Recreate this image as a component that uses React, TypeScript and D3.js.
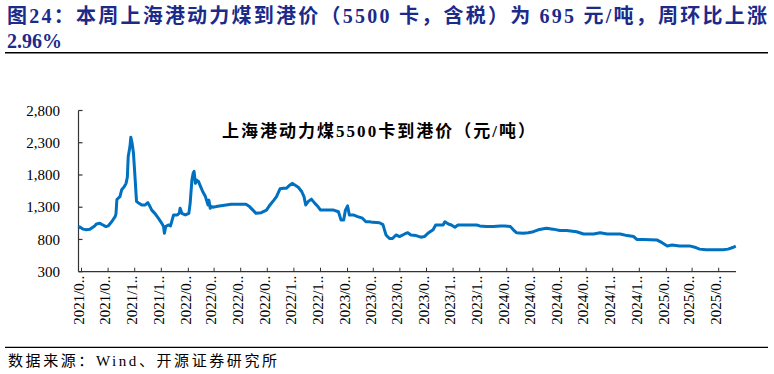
import * as d3 from "d3";

const WIDTH = 774;
const HEIGHT = 374;

const TITLE_LINE1 = "图24：本周上海港动力煤到港价（5500 卡，含税）为 695 元/吨，周环比上涨";
const TITLE_LINE2 = "2.96%";
const CHART_TITLE = "上海港动力煤5500卡到港价（元/吨）";
const SOURCE = "数据来源：Wind、开源证券研究所";

// weekly-ish readings of the series
const dates = [
  "2021-06-01", "2021-06-04", "2021-06-12", "2021-06-19", "2021-06-27", "2021-07-08", "2021-07-12", "2021-07-20",
  "2021-07-27", "2021-08-03", "2021-08-08", "2021-08-16", "2021-08-24", "2021-08-26", "2021-08-28", "2021-09-04",
  "2021-09-08", "2021-09-14", "2021-09-18", "2021-09-21", "2021-09-23", "2021-09-27", "2021-09-29", "2021-10-02",
  "2021-10-05", "2021-10-09", "2021-10-12", "2021-10-16", "2021-10-24", "2021-11-01", "2021-11-07", "2021-11-12",
  "2021-11-16", "2021-11-23", "2021-12-01", "2021-12-09", "2021-12-13", "2021-12-15", "2021-12-18", "2021-12-24",
  "2021-12-29", "2022-01-05", "2022-01-13", "2022-01-18", "2022-01-20", "2022-01-24", "2022-02-01", "2022-02-09",
  "2022-02-12", "2022-02-16", "2022-02-19", "2022-02-21", "2022-02-24", "2022-02-27", "2022-03-03", "2022-03-08",
  "2022-03-13", "2022-03-19", "2022-03-25", "2022-03-27", "2022-03-30", "2022-04-02", "2022-04-05", "2022-04-13",
  "2022-04-20", "2022-05-17", "2022-06-20", "2022-06-28", "2022-07-06", "2022-07-13", "2022-07-25", "2022-08-06",
  "2022-08-14", "2022-08-23", "2022-08-29", "2022-09-06", "2022-09-14", "2022-09-21", "2022-09-29", "2022-10-04",
  "2022-10-10", "2022-10-18", "2022-10-26", "2022-10-31", "2022-11-04", "2022-11-10", "2022-11-17", "2022-11-25",
  "2022-12-02", "2022-12-08", "2022-12-18", "2023-01-07", "2023-01-18", "2023-01-24", "2023-01-30", "2023-02-03",
  "2023-02-08", "2023-02-12", "2023-02-21", "2023-03-03", "2023-03-14", "2023-03-22", "2023-03-30", "2023-04-07",
  "2023-04-22", "2023-04-30", "2023-05-07", "2023-05-15", "2023-05-22", "2023-05-30", "2023-06-07", "2023-06-19",
  "2023-06-26", "2023-07-03", "2023-07-15", "2023-07-26", "2023-08-03", "2023-08-11", "2023-08-23", "2023-08-29",
  "2023-09-07", "2023-09-15", "2023-09-19", "2023-09-27", "2023-10-04", "2023-10-12", "2023-10-19", "2023-11-15",
  "2023-12-01", "2023-12-08", "2023-12-23", "2024-01-08", "2024-01-24", "2024-02-04", "2024-02-16", "2024-02-23",
  "2024-03-01", "2024-03-16", "2024-03-28", "2024-04-09", "2024-04-20", "2024-05-09", "2024-05-24", "2024-06-09",
  "2024-06-24", "2024-07-17", "2024-08-02", "2024-08-25", "2024-09-09", "2024-09-25", "2024-10-25", "2024-11-10",
  "2024-11-25", "2024-12-02", "2024-12-17", "2025-01-18", "2025-01-29", "2025-02-10", "2025-02-21", "2025-03-10",
  "2025-04-02", "2025-04-14", "2025-04-25", "2025-05-10", "2025-06-18", "2025-06-29", "2025-07-10", "2025-07-17",
];

const prices = [
  975, 995, 960, 950, 957, 1010, 1040, 1050,
  1025, 1000, 1010, 1075, 1155, 1200, 1420, 1465,
  1570, 1620, 1670, 1765, 2085, 2240, 2385, 2290,
  2140, 1720, 1390, 1370, 1335, 1335, 1370, 1310,
  1255, 1205, 1130, 1050, 1000, 895, 1000, 1025,
  1010, 1180, 1180, 1205, 1285, 1205, 1180, 1205,
  1360, 1720, 1830, 1855, 1670, 1720, 1700, 1620,
  1540, 1465, 1335, 1410, 1285, 1310, 1300, 1310,
  1320, 1345, 1345, 1310, 1255, 1205, 1215, 1255,
  1335, 1410, 1465, 1585, 1595, 1595, 1645, 1670,
  1645, 1610, 1540, 1465, 1335, 1390, 1425, 1360,
  1310, 1255, 1255, 1255, 1230, 1100, 1100, 1255,
  1320, 1180, 1180, 1155, 1130, 1075, 1075, 1065,
  1060, 1030, 870, 815, 815, 870, 845, 885,
  905, 870, 860, 835, 845, 895, 950, 1025,
  1025, 1025, 1075, 1040, 1025, 990, 1025, 1025,
  1025, 1010, 1000, 1000, 1010, 1010, 1000, 950,
  905, 895, 905, 920, 950, 975, 960, 940,
  940, 920, 885, 885, 905, 885, 885, 860,
  845, 800, 800, 790, 750, 700, 715, 700,
  700, 680, 650, 640, 640, 650, 675, 695,
];

const yTicks = [300, 800, 1300, 1800, 2300, 2800];

const parse = d3.timeParse("%Y-%m-%d");
const FONT = "'Liberation Serif', 'Times New Roman', 'Noto Sans CJK SC', serif";

export default function App() {
  const data = dates.map((d, i) => ({ date: parse(d) as Date, value: prices[i] }));

  const xScale = d3
    .scaleTime()
    .domain([new Date(2021, 5, 1), new Date(2025, 5, 1)])
    .range([78.5, 715.7]);
  const yScale = d3.scaleLinear().domain([300, 2800]).range([271.7, 110.5]);

  const xTicks = d3.timeMonth.range(new Date(2021, 5, 1), new Date(2025, 5, 2), 2);
  const fmt = d3.timeFormat("%Y/%m");

  const line = d3
    .line<{ date: Date; value: number }>()
    .x((d) => xScale(d.date))
    .y((d) => yScale(d.value));

  const x0 = 78.5;
  const x1 = 736;
  const y0 = yScale(300);

  return (
    <svg
      width={WIDTH}
      height={HEIGHT}
      style={{ position: "absolute", left: 0, top: 0, background: "#fff" }}
      fontFamily={FONT}
    >
      {/* heading */}
      <text
        x={7}
        y={22.5}
        fontSize={20}
        fontWeight="bold"
        fill="#1C2A8A"
        textLength={760}
        lengthAdjust="spacing"
      >
        {TITLE_LINE1}
      </text>
      <text x={7} y={48} fontSize={20} fontWeight="bold" fill="#1C2A8A">
        {TITLE_LINE2}
      </text>
      <line x1={5} x2={768} y1={52.7} y2={52.7} stroke="#000" strokeWidth={1.5} />

      {/* chart title */}
      <text
        x={222}
        y={136.5}
        fontSize={17}
        fontWeight="bold"
        fill="#000"
        textLength={313}
        lengthAdjust="spacing"
      >
        {CHART_TITLE}
      </text>

      {/* y axis */}
      <line x1={x0} x2={x0} y1={yScale(2800)} y2={y0} stroke="#333" strokeWidth={1.2} />
      {yTicks.map((t) => (
        <g key={t}>
          <line x1={x0} x2={x0 + 4} y1={yScale(t)} y2={yScale(t)} stroke="#333" strokeWidth={1.2} />
          <text x={60} y={yScale(t)} dy="0.35em" textAnchor="end" fontSize={15} fill="#000">
            {d3.format(",")(t)}
          </text>
        </g>
      ))}

      {/* x axis */}
      <line x1={x0} x2={x1} y1={y0} y2={y0} stroke="#333" strokeWidth={1.2} />
      {xTicks.map((t, i) => {
        const x = xScale(t);
        return (
          <g key={i}>
            <line x1={x + 3} x2={x + 3} y1={y0 - 4} y2={y0} stroke="#333" strokeWidth={1} />
            <text
              transform={`translate(${x},${y0 + 4}) rotate(-90)`}
              dy="0.35em"
              textAnchor="end"
              fontSize={15}
              fill="#000"
            >
              {fmt(t).slice(0, 6) + ".."}
            </text>
          </g>
        );
      })}

      {/* series */}
      <path d={line(data) ?? ""} fill="none" stroke="#0070C0" strokeWidth={3} strokeLinejoin="round" />

      {/* footer */}
      <line x1={5} x2={768} y1={347.3} y2={347.3} stroke="#000" strokeWidth={1.2} />
      <text x={8} y={366} fontSize={15} fill="#000" textLength={269} lengthAdjust="spacing">
        {SOURCE}
      </text>
    </svg>
  );
}
